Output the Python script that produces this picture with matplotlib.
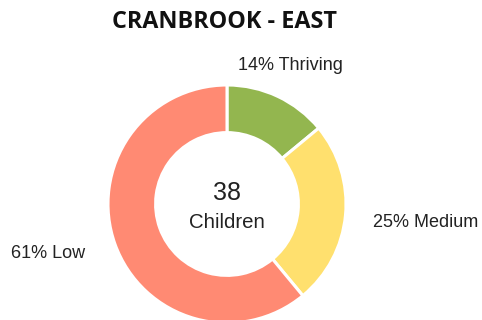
import matplotlib.pyplot as plt

labels = ["Thriving", "Medium", "Low"]
percents = [14, 25, 61]
colors = ["#93b64f", "#ffe06e", "#ff8a73"]
total_children = 38

fig = plt.figure(figsize=(4.82, 3.2), dpi=100)
# axes spans the whole canvas, units are pixels with the ring centre at 0,0
ax = fig.add_axes([0, 0, 1, 1])
cx, cy = 227, 204

radius = 119
wedges, _ = ax.pie(percents, colors=colors, startangle=90, counterclock=False,
                   radius=radius, center=(0, 0),
                   wedgeprops=dict(width=radius * 0.4, edgecolor="white", linewidth=2.2))
# pie() resets the limits, so set them afterwards
ax.set_xlim(-cx, 482 - cx)
ax.set_ylim(-(320 - cy), cy)
ax.set_aspect("equal")
ax.axis("off")

txt = "#222222"
label_pos = [(63, 134), (199, -23), (-178.5, -54)]
for (x, y), p, name in zip(label_pos, percents, labels):
    ax.text(x, y, f"{p}% {name}", ha="center", va="baseline", fontsize=13,
            family="Liberation Sans", color=txt)

ax.text(0, 4, str(total_children), ha="center", va="baseline", fontsize=18,
        family="Liberation Sans", color=txt)
ax.text(0, -24, "Children", ha="center", va="baseline", fontsize=14.7,
        family="Liberation Sans", color=txt)

fig.text(224 / 482, 1 - 28 / 320, "CRANBROOK - EAST", ha="center", va="baseline",
         fontsize=16.8, fontweight="bold", family="Open Sans", color="#111111")

fig.savefig("out.png", dpi=100)
